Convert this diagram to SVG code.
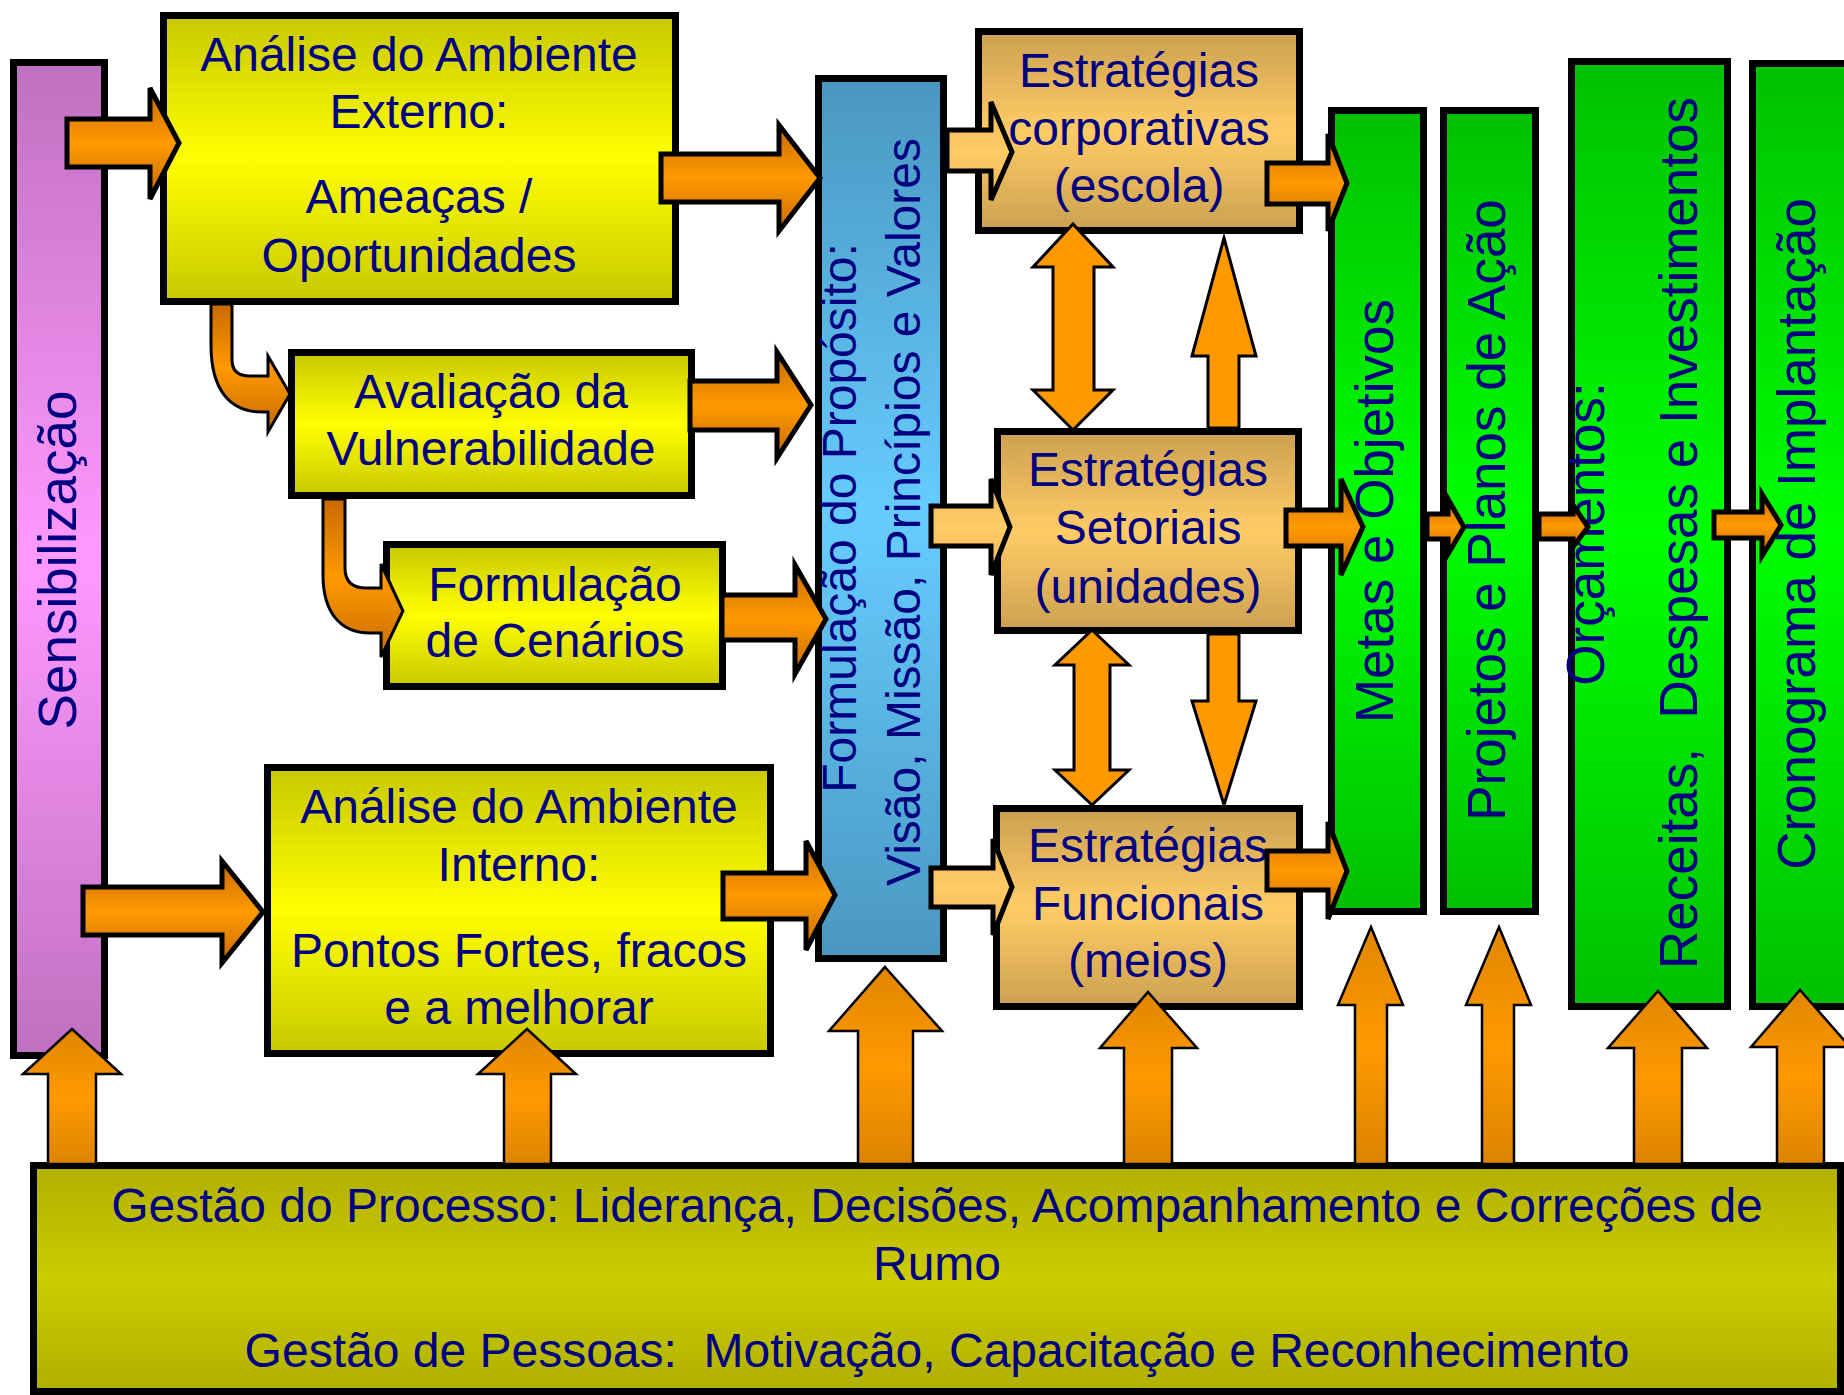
<svg xmlns="http://www.w3.org/2000/svg" width="1844" height="1395" viewBox="0 0 1844 1395">
<style>
text{font-family:"Liberation Sans",Arial,sans-serif;fill:#000080;text-anchor:middle}
.h{font-size:48px}
.v{font-size:53px}
.box{stroke:#000;stroke-width:7}
.ar{stroke:#000;stroke-width:5;stroke-linejoin:miter}
.ar2{stroke:#000;stroke-width:3}
.ar3{stroke:#000;stroke-width:2.5}
</style>
<defs>
<linearGradient id="gY" x1="0" y1="0" x2="0" y2="1"><stop offset="0" stop-color="#c8c800"/><stop offset="0.5" stop-color="#ffff00"/><stop offset="1" stop-color="#c8c800"/></linearGradient>
<linearGradient id="gT" x1="0" y1="0" x2="0" y2="1"><stop offset="0" stop-color="#cba050"/><stop offset="0.5" stop-color="#ffcc66"/><stop offset="1" stop-color="#cba050"/></linearGradient>
<linearGradient id="gG" x1="0" y1="0" x2="0" y2="1"><stop offset="0" stop-color="#00c000"/><stop offset="0.5" stop-color="#00ff00"/><stop offset="1" stop-color="#00c000"/></linearGradient>
<linearGradient id="gB" x1="0" y1="0" x2="0" y2="1"><stop offset="0" stop-color="#4a97c0"/><stop offset="0.5" stop-color="#66ccff"/><stop offset="1" stop-color="#4a97c0"/></linearGradient>
<linearGradient id="gP" x1="0" y1="0" x2="0" y2="1"><stop offset="0" stop-color="#c070c0"/><stop offset="0.5" stop-color="#ff99ff"/><stop offset="1" stop-color="#c070c0"/></linearGradient>
<linearGradient id="gO" x1="0" y1="0" x2="0" y2="1"><stop offset="0" stop-color="#b0b000"/><stop offset="0.5" stop-color="#cccc00"/><stop offset="1" stop-color="#b0b000"/></linearGradient>
<linearGradient id="gA" x1="0" y1="0" x2="0" y2="1"><stop offset="0" stop-color="#c86a00"/><stop offset="0.5" stop-color="#ff9900"/><stop offset="1" stop-color="#c86a00"/></linearGradient>
<linearGradient id="gL" x1="0" y1="0" x2="0" y2="1"><stop offset="0" stop-color="#f2b558"/><stop offset="0.5" stop-color="#ffcc66"/><stop offset="1" stop-color="#f2b558"/></linearGradient>
<linearGradient id="gU" x1="0" y1="0" x2="0" y2="1"><stop offset="0" stop-color="#e08600"/><stop offset="0.5" stop-color="#ff9900"/><stop offset="1" stop-color="#dc8400"/></linearGradient>
</defs>
<rect width="1844" height="1395" fill="#fff"/>

<g id="sensibilizacao"><rect class="box" x="13.5" y="62.5" width="91" height="993" fill="url(#gP)"/><text class="v" transform="translate(76,560) rotate(-90)">Sensibilização</text></g>
<g id="analise-externo"><rect class="box" x="163.5" y="15.5" width="512" height="286" fill="url(#gY)"/>
<text class="h" x="419" y="71">Análise do Ambiente</text><text class="h" x="419" y="128">Externo:</text><text class="h" x="419" y="213">Ameaças /</text><text class="h" x="419" y="272">Oportunidades</text></g>
<g id="avaliacao"><rect class="box" x="291.5" y="352.5" width="400" height="143" fill="url(#gY)"/>
<text class="h" x="491" y="408">Avaliação da</text><text class="h" x="491" y="465">Vulnerabilidade</text></g>
<g id="cenarios"><rect class="box" x="386.5" y="544.5" width="336" height="142" fill="url(#gY)"/>
<text class="h" x="555" y="601">Formulação</text><text class="h" x="555" y="657">de Cenários</text></g>
<g id="analise-interno"><rect class="box" x="267.5" y="767.5" width="503" height="286" fill="url(#gY)"/>
<text class="h" x="519" y="823">Análise do Ambiente</text><text class="h" x="519" y="881">Interno:</text><text class="h" x="519" y="967">Pontos Fortes, fracos</text><text class="h" x="519" y="1024">e a melhorar</text></g>
<g id="proposito"><rect class="box" x="818.5" y="78.5" width="125" height="880" fill="url(#gB)"/>
<text class="h" transform="translate(856,518) rotate(-90)">Formulação do Propósito:</text>
<text class="h" transform="translate(920,512) rotate(-90)">Visão, Missão, Princípios e Valores</text></g>
<g id="estrategias-corporativas"><rect class="box" x="978.5" y="31.5" width="321" height="199" fill="url(#gT)"/>
<text class="h" x="1139" y="87">Estratégias</text><text class="h" x="1139" y="145">corporativas</text><text class="h" x="1139" y="202">(escola)</text></g>
<g id="estrategias-setoriais"><rect class="box" x="997.5" y="431.5" width="301" height="199" fill="url(#gT)"/>
<text class="h" x="1148" y="486">Estratégias</text><text class="h" x="1148" y="544">Setoriais</text><text class="h" x="1148" y="603">(unidades)</text></g>
<g id="estrategias-funcionais"><rect class="box" x="996.5" y="808.5" width="303" height="198" fill="url(#gT)"/>
<text class="h" x="1148" y="862">Estratégias</text><text class="h" x="1148" y="920">Funcionais</text><text class="h" x="1148" y="977">(meios)</text></g>
<g id="metas"><rect class="box" x="1331.5" y="110.5" width="92" height="801" fill="url(#gG)"/>
<text class="v" transform="translate(1393,511) rotate(-90)">Metas e Objetivos</text></g>
<g id="projetos"><rect class="box" x="1443.5" y="110.5" width="92" height="801" fill="url(#gG)"/>
<text class="v" transform="translate(1505,510) rotate(-90)">Projetos e Planos de Ação</text></g>
<g id="orcamentos"><rect class="box" x="1571.5" y="61.5" width="156" height="945" fill="url(#gG)"/>
<text class="v" transform="translate(1604,534) rotate(-90)">Orçamentos:</text>
<text class="v" transform="translate(1697,533) rotate(-90)" xml:space="preserve">Receitas,  Despesas e Investimentos</text></g>
<g id="cronograma"><rect class="box" x="1752.5" y="63.5" width="100" height="943" fill="url(#gG)"/>
<text class="v" transform="translate(1815,534) rotate(-90)">Cronograma de Implantação</text></g>
<g id="gestao"><rect class="box" x="33.5" y="1165.5" width="1807" height="226" fill="url(#gO)"/>
<text class="h" x="937" y="1222">Gestão do Processo: Liderança, Decisões, Acompanhamento e Correções de</text>
<text class="h" x="937" y="1280">Rumo</text>
<text class="h" x="937" y="1367" xml:space="preserve">Gestão de Pessoas:  Motivação, Capacitação e Reconhecimento</text></g>

<g id="connectors">
<path class="ar" fill="url(#gA)" d="M67,119 H150 V88 L179,143 L150,199 V167 H67 Z"/>
<path class="ar" fill="url(#gA)" d="M661,154 H779 V125 L820,178 L779,231 V202 H661 Z"/>
<path class="ar" fill="url(#gA)" d="M83,887 H222 V861 L263,912 L222,963 V935 H83 Z"/>
<path class="ar" fill="url(#gA)" d="M690,381 H777 V352 L811,405 L777,458 V430 H690 Z"/>
<path class="ar" fill="url(#gA)" d="M722,595 H795 V565 L826,619 L795,674 V640 H722 Z"/>
<path class="ar" fill="url(#gA)" d="M723,873 H806 V841 L835,895 L806,950 V919 H723 Z"/>
<path class="ar2" fill="url(#gA)" d="M211,304 H232 V360 Q232,376 250,376 H268 V356 L290,394 L268,432 V412 H262 C230,412 211,390 211,345 Z"/>
<path class="ar2" fill="url(#gA)" d="M323,499 H345 V568 Q345,588 366,588 H381 V564 L403,611 L381,657 V633 H370 C340,633 323,612 323,575 Z"/>
<path class="ar" fill="url(#gL)" d="M947,130 H991 V102 L1012,152 L991,200 V171 H947 Z"/>
<path class="ar" fill="url(#gL)" d="M931,506 H991 V479 L1010,527 L991,575 V546 H931 Z"/>
<path class="ar" fill="url(#gL)" d="M931,868 H993 V839 L1012,887 L993,935 V907 H931 Z"/>
<path class="ar" fill="url(#gA)" d="M1267,163 H1328 V134 L1347,183 L1328,231 V204 H1267 Z"/>
<path class="ar" fill="url(#gA)" d="M1286,510 H1341 V479 L1363,527 L1341,575 V546 H1286 Z"/>
<path class="ar" fill="url(#gA)" d="M1267,851 H1328 V822 L1347,871 L1328,919 V890 H1267 Z"/>
<path class="ar" fill="url(#gA)" d="M1427,514 H1448 V499 L1464,527 L1448,554 V539 H1427 Z"/>
<path class="ar" fill="url(#gA)" d="M1539,514 H1573 V505 L1588,527 L1573,547 V539 H1539 Z"/>
<path class="ar" fill="url(#gA)" d="M1714,512 H1762 V494 L1781,525 L1762,556 V538 H1714 Z"/>
<path class="ar2" fill="#ff9900" d="M1073,224 L1113,267 H1094 V390 H1113 L1073,430 L1033,390 H1053 V267 H1033 Z"/>
<path class="ar2" fill="#ff9900" d="M1092,630 L1129,665 H1110 V770 H1129 L1092,805 L1055,770 H1074 V665 H1055 Z"/>
<path class="ar2" fill="#ff9900" d="M1224,238 L1256,356 H1239 V428 H1208 V356 H1192 Z"/>
<path class="ar2" fill="#ff9900" d="M1208,634 H1239 V701 H1256 L1224,805 L1192,701 H1208 Z"/>
<path class="ar3" fill="url(#gU)" d="M72,1029 L121,1074 H96 V1164 H48 V1074 H23 Z"/>
<path class="ar3" fill="url(#gU)" d="M527,1029 L576,1074 H551 V1164 H504 V1074 H478 Z"/>
<path class="ar3" fill="url(#gU)" d="M885,967 L942,1031 H913 V1164 H858 V1031 H829 Z"/>
<path class="ar3" fill="url(#gU)" d="M1148,992 L1197,1048 H1172 V1164 H1124 V1048 H1100 Z"/>
<path class="ar3" fill="url(#gU)" d="M1371,927 L1403,1005 H1387 V1164 H1355 V1005 H1338 Z"/>
<path class="ar3" fill="url(#gU)" d="M1499,927 L1531,1005 H1514 V1164 H1482 V1005 H1466 Z"/>
<path class="ar3" fill="url(#gU)" d="M1658,991 L1707,1048 H1682 V1164 H1634 V1048 H1608 Z"/>
<path class="ar3" fill="url(#gU)" d="M1800,990 L1850,1047 H1824 V1164 H1777 V1047 H1751 Z"/>
</g>
</svg>
